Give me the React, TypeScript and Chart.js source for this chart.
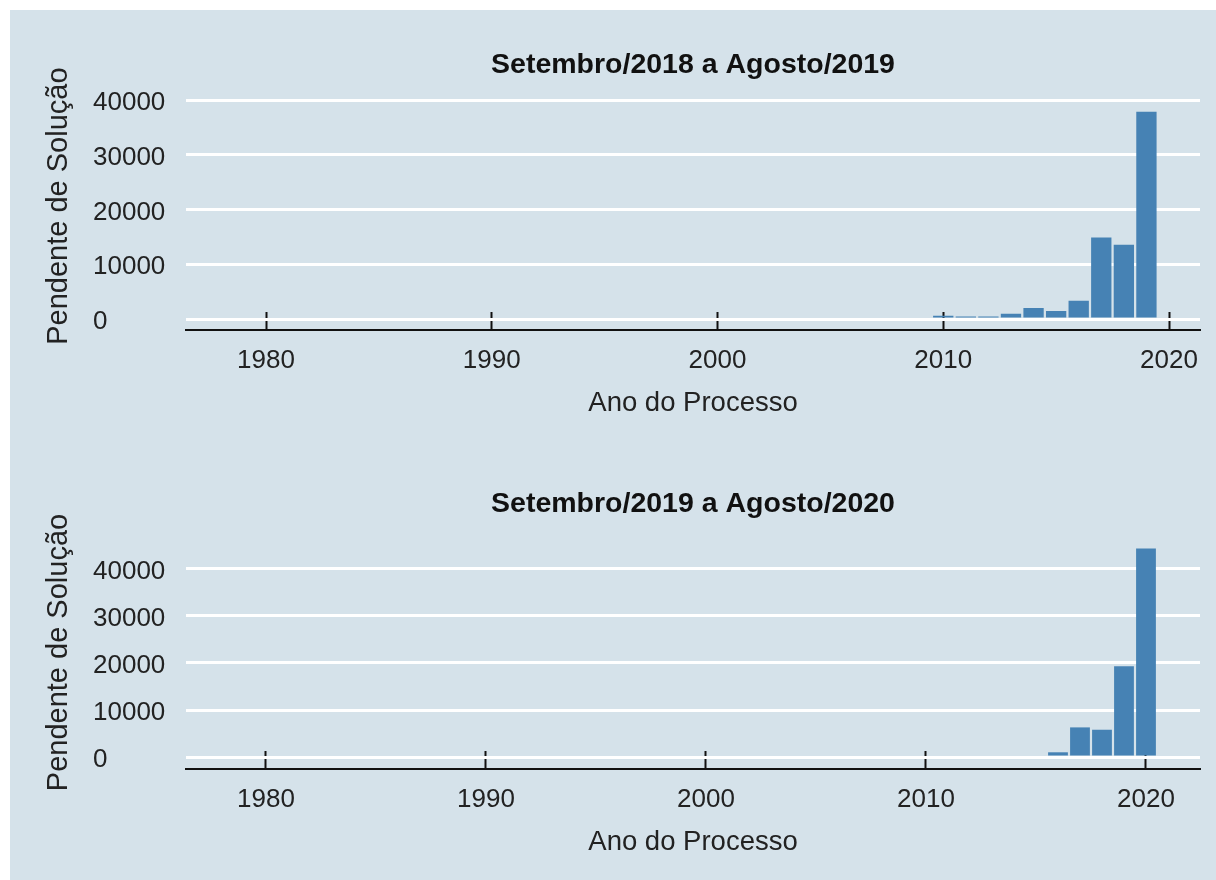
import React, { useEffect, useRef } from "react";
import { Chart, registerables } from "chart.js";

Chart.register(...registerables);

const topYears = [2010, 2011, 2012, 2013, 2014, 2015, 2016, 2017, 2018, 2019];
const topValues = [600, 480, 480, 970, 2000, 1460, 3340, 14900, 13560, 37880];
const bottomYears = [2016, 2017, 2018, 2019, 2020];
const bottomValues = [1000, 6300, 5800, 19300, 44350];
const xTicks = [1980, 1990, 2000, 2010, 2020];
const yTicks = [0, 10000, 20000, 30000, 40000];
const topTitle = "Setembro/2018 a Agosto/2019";
const bottomTitle = "Setembro/2019 a Agosto/2020";
const xTitle = "Ano do Processo";
const yTitle = "Pendente de Solução";

const FONT = "'Liberation Sans', Arial, sans-serif";
const BG = "#d5e2ea";
const BAR = "#4682b4";

type Cfg = {
  years: number[];
  values: number[];
  title: string;
  xMin: number;
  xMax: number;
  yMin: number;
  yMax: number;
  titleBottom: number;
};

function makeChart(canvas: HTMLCanvasElement, c: Cfg) {
  return new Chart(canvas, {
    type: "bar",
    data: {
      datasets: [
        {
          data: c.years.map((y, i) => ({ x: y, y: c.values[i] })),
          backgroundColor: BAR,
          borderWidth: 0,
          barPercentage: 0.9,
          categoryPercentage: 1.0,
        },
      ],
    },
    options: {
      animation: false,
      responsive: false,
      events: [],
      layout: { padding: { left: 24, right: 16, top: 40, bottom: 20 } },
      plugins: {
        legend: { display: false },
        tooltip: { enabled: false },
        title: {
          display: true,
          text: c.title,
          fullSize: false,
          color: "#111",
          font: { family: FONT, size: 28.5, weight: "bold", lineHeight: 1.2 },
          padding: { top: 8, bottom: c.titleBottom },
        },
      },
      scales: {
        x: {
          type: "linear",
          min: c.xMin,
          max: c.xMax,
          offset: false,
          afterBuildTicks: (axis: any) => {
            axis.ticks = xTicks.map((v) => ({ value: v }));
          },
          afterFit: (axis: any) => {
            axis.height = 90;
            axis.paddingLeft = 0;
            axis.paddingRight = 0;
          },
          grid: {
            display: true,
            offset: false,
            drawOnChartArea: false,
            drawTicks: true,
            tickLength: -18,
            tickColor: "#111",
            tickWidth: 2,
            color: "#111",
          },
          border: { display: true, color: "#111", width: 2 },
          ticks: {
            autoSkip: false,
            maxRotation: 0,
            padding: 33,
            color: "#222",
            font: { family: FONT, size: 26 },
            callback: (v: any) => String(v),
          },
          title: {
            display: true,
            text: xTitle,
            color: "#222",
            font: { family: FONT, size: 27.5, lineHeight: 1.2 },
            padding: { top: 0, bottom: 0 },
          },
        },
        y: {
          type: "linear",
          position: "left",
          weight: 0,
          min: c.yMin,
          max: c.yMax,
          afterBuildTicks: (axis: any) => {
            axis.ticks = yTicks.map((v) => ({ value: v }));
          },
          afterFit: (axis: any) => {
            axis.width = 93;
            axis.paddingTop = 0;
            axis.paddingBottom = 0;
          },
          grid: {
            display: true,
            drawTicks: false,
            color: "#ffffff",
            lineWidth: 3,
          },
          border: { display: false },
          ticks: {
            padding: 20,
            crossAlign: "far",
            labelOffset: 3,
            color: "#222",
            font: { family: FONT, size: 26 },
            callback: (v: any) => String(v),
          },
          title: { display: false },
        },
        yTitleAxis: {
          type: "linear",
          position: "left",
          weight: 10,
          display: true,
          afterFit: (axis: any) => {
            axis.width = 69;
            axis.paddingTop = 0;
            axis.paddingBottom = 0;
          },
          grid: { display: false, drawTicks: false },
          border: { display: false },
          ticks: { display: false },
          title: {
            display: true,
            text: yTitle,
            color: "#222",
            font: { family: FONT, size: 29, lineHeight: 1.2 },
            padding: { top: 17.6, bottom: 0 },
          },
        },
      },
    } as any,
  });
}

function Panel({ cfg, top }: { cfg: Cfg; top: number }) {
  const ref = useRef<HTMLCanvasElement>(null);
  useEffect(() => {
    if (!ref.current) return;
    const ch = makeChart(ref.current, cfg);
    return () => ch.destroy();
  }, []);
  return (
    <canvas
      ref={ref}
      width={1216}
      height={440}
      style={{ position: "absolute", left: 0, top, width: 1216, height: 440 }}
    />
  );
}

export default function App() {
  const topCfg: Cfg = {
    years: topYears,
    values: topValues,
    title: topTitle,
    xMin: 1976.456,
    xMax: 2021.373,
    yMin: -2000,
    yMax: 43255,
    titleBottom: 0,
  };
  const bottomCfg: Cfg = {
    years: bottomYears,
    values: bottomValues,
    title: bottomTitle,
    xMin: 1976.364,
    xMax: 2022.455,
    yMin: -2553,
    yMax: 47021,
    titleBottom: 14.8,
  };
  return (
    <div
      style={{
        position: "fixed",
        left: 0,
        top: 0,
        width: 1216,
        height: 880,
        background: "#ffffff",
        overflow: "hidden",
      }}
    >
      <div
        style={{
          position: "absolute",
          left: 10,
          top: 10,
          right: 0,
          bottom: 0,
          background: BG,
        }}
      />
      <Panel cfg={topCfg} top={0} />
      <Panel cfg={bottomCfg} top={439} />
    </div>
  );
}
